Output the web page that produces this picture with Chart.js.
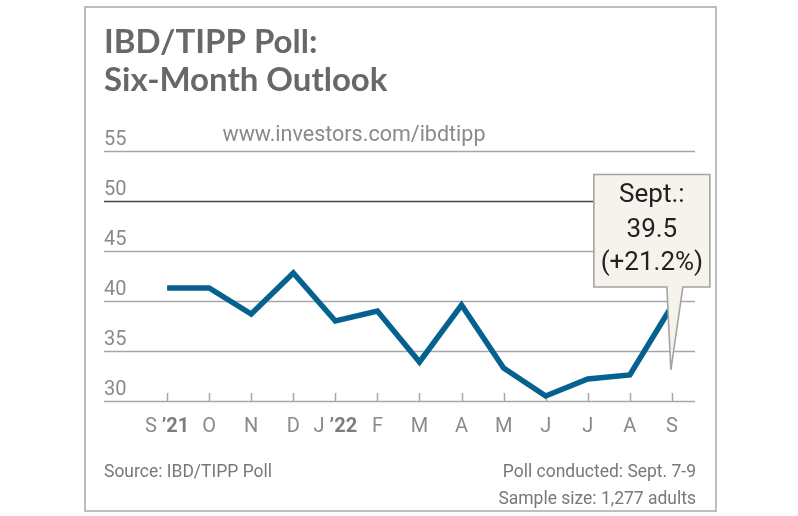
<!DOCTYPE html>
<html>
<head>
<meta charset="utf-8">
<script src="https://cdn.jsdelivr.net/npm/chart.js@4.4.1/dist/chart.umd.min.js"></script>
<style>
  html, body { margin: 0; padding: 0; background: #fff; }
  #wrap { position: relative; width: 798px; height: 516px; }
  #frame { position: absolute; left: 84px; top: 6px; width: 633px; height: 506px; box-sizing: border-box; border: 2px solid #bdbdbd; }
  canvas { position: absolute; left: 0; top: 0; }
</style>
</head>
<body>
<div id="wrap">
  <div id="frame"></div>
  <canvas id="c" width="798" height="516"></canvas>
</div>
<script>
// ---- data ----
const months   = ["S", "O", "N", "D", "J", "F", "M", "A", "M", "J", "J", "A", "S"];
const yearTags = ["\u201921", "", "", "", "\u201922", "", "", "", "", "", "", "", ""];
const values   = [41.3, 41.3, 38.7, 42.8, 38.0, 39.0, 33.9, 39.6, 33.3, 30.5, 32.2, 32.6, 39.5];
const yTicks   = [30, 35, 40, 45, 50, 55];
const titleLines  = ["IBD/TIPP Poll:", "Six-Month Outlook"];
const urlText     = "www.investors.com/ibdtipp";
const calloutText = ["Sept.:", "39.5", "(+21.2%)"];
const sourceText  = "Source: IBD/TIPP Poll";
const noteLines   = ["Poll conducted: Sept. 7-9", "Sample size: 1,277 adults"];

const LINE_COLOR = "#05628f";

function squeezedText(ctx, text, x, y, sx) {
  ctx.save();
  ctx.translate(x, y);
  ctx.scale(sx, 1);
  ctx.fillText(text, 0, 0);
  ctx.restore();
}

const decor = {
  id: "decor",
  beforeDatasetsDraw(chart) {
    const ctx = chart.ctx, a = chart.chartArea;
    const y = chart.scales.y, x = chart.scales.x;
    ctx.save();
    // gridlines
    yTicks.forEach(v => {
      const py = Math.round(y.getPixelForValue(v)) + 0.5;
      ctx.beginPath();
      ctx.strokeStyle = v === 50 ? "#474747" : "#a6a6a6";
      ctx.lineWidth = 1.6;
      ctx.moveTo(a.left, py);
      ctx.lineTo(a.right, py);
      ctx.stroke();
    });
    // y labels
    ctx.fillStyle = "#8a8a8a";
    ctx.font = "20px Roboto";
    ctx.textAlign = "left";
    ctx.textBaseline = "alphabetic";
    yTicks.forEach(v => {
      ctx.fillText(String(v), a.left, y.getPixelForValue(v) - 6);
    });
    // x tick marks (inside, upward)
    const base = y.getPixelForValue(30);
    ctx.strokeStyle = "#a6a6a6";
    ctx.lineWidth = 1.5;
    months.forEach((m, i) => {
      const px = Math.round(x.getPixelForValue(i)) + 0.5;
      ctx.beginPath();
      ctx.moveTo(px, base - 8);
      ctx.lineTo(px, base);
      ctx.stroke();
    });
    // x labels
    months.forEach((m, i) => {
      const px = x.getPixelForValue(i);
      const ly = base + 31;
      ctx.font = "20px Roboto";
      const w1 = ctx.measureText(m).width;
      let w2 = 0, gap = 0;
      if (yearTags[i]) {
        ctx.font = "bold 20px Roboto";
        w2 = ctx.measureText(yearTags[i]).width;
        gap = 5;
      }
      let sx = px - (w1 + gap + w2) / 2;
      ctx.textAlign = "left";
      ctx.font = "20px Roboto";
      ctx.fillStyle = "#8a8a8a";
      ctx.fillText(m, sx, ly);
      if (yearTags[i]) {
        ctx.font = "bold 20px Roboto";
        ctx.fillStyle = "#7d7d7d";
        ctx.fillText(yearTags[i], sx + w1 + gap, ly);
      }
    });
    // title
    ctx.fillStyle = "#68686b";
    ctx.font = "bold 33px Lato";
    ctx.textAlign = "left";
    ctx.fillText(titleLines[0], a.left, 53);
    ctx.fillText(titleLines[1], a.left, 91);
    // url
    ctx.fillStyle = "#8a8a8a";
    ctx.font = "21.5px Roboto";
    ctx.textAlign = "center";
    ctx.fillText(urlText, 354, y.getPixelForValue(55) - 10);
    // footer (slightly condensed)
    ctx.fillStyle = "#787878";
    ctx.font = "19px Roboto";
    ctx.textAlign = "left";
    squeezedText(ctx, sourceText, a.left, 477, 0.92);
    ctx.textAlign = "right";
    squeezedText(ctx, noteLines[0], a.right + 1, 477, 0.92);
    squeezedText(ctx, noteLines[1], a.right + 1, 504, 0.92);
    ctx.restore();
  },
  afterDatasetsDraw(chart) {
    const ctx = chart.ctx;
    const x = chart.scales.x, y = chart.scales.y;
    const last = values.length - 1;
    const px = x.getPixelForValue(last), py = y.getPixelForValue(values[last]);
    const L = px - 78, R = px + 38, T = py - 131.5, B = py - 19;
    ctx.save();
    ctx.beginPath();
    ctx.moveTo(L, T);
    ctx.lineTo(R, T);
    ctx.lineTo(R, B);
    ctx.lineTo(px + 11, B);
    ctx.lineTo(px - 1, py + 64);
    ctx.lineTo(px - 5, B);
    ctx.lineTo(L, B);
    ctx.closePath();
    ctx.fillStyle = "#f5f3ec";
    ctx.fill();
    ctx.strokeStyle = "#a3a3a3";
    ctx.lineWidth = 1.6;
    ctx.lineJoin = "miter";
    ctx.stroke();
    ctx.fillStyle = "#222";
    ctx.font = "26px Roboto";
    ctx.textAlign = "center";
    ctx.textBaseline = "alphabetic";
    const cx = (L + R) / 2;
    ctx.fillText(calloutText[0], cx, T + 27.5);
    ctx.fillText(calloutText[1], cx, T + 62.5);
    ctx.fillText(calloutText[2], cx, T + 95.5);
    ctx.restore();
  }
};

new Chart(document.getElementById("c"), {
  type: "line",
  data: {
    datasets: [{
      data: values.map((v, i) => ({ x: i, y: v })),
      borderColor: LINE_COLOR,
      borderWidth: 5.5,
      pointRadius: 0,
      tension: 0,
      borderJoinStyle: "miter",
      borderCapStyle: "butt",
      fill: false
    }]
  },
  options: {
    responsive: false,
    animation: false,
    devicePixelRatio: 1,
    layout: { padding: { left: 104, right: 103, top: 151, bottom: 115 } },
    scales: {
      x: { type: "linear", min: -1.5, max: 12.55, display: false },
      y: { type: "linear", min: 30, max: 55, display: false }
    },
    plugins: { legend: { display: false }, tooltip: { enabled: false } }
  },
  plugins: [decor]
});
</script>
</body>
</html>
